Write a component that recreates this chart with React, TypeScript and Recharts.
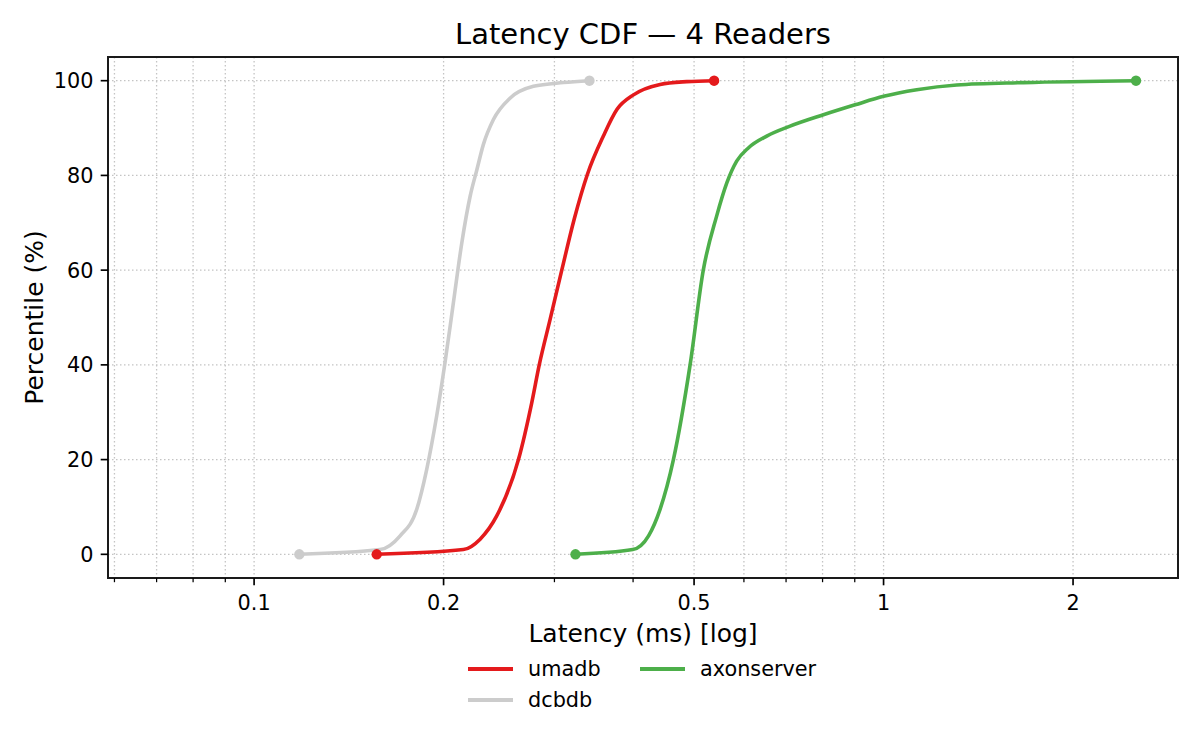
import React from 'react'
import { LineChart, Line, XAxis, YAxis, CartesianGrid, ReferenceArea } from 'recharts'

// latency (ms) / percentile pairs
const dcbdbMs = [0.118, 0.1585, 0.1706, 0.1813, 0.188, 0.195, 0.201, 0.2073, 0.2138, 0.2204, 0.2259, 0.2313, 0.24, 0.255, 0.2778, 0.31, 0.341]
const dcbdbPct = [0, 1.0, 3.9, 9.5, 17.9, 29.2, 40.4, 53.1, 65.8, 75.6, 81.2, 86.5, 91.8, 96.3, 98.8, 99.6, 100]

const umadbMs = [0.1566, 0.215, 0.2286, 0.2429, 0.263, 0.2761, 0.2839, 0.2953, 0.3083, 0.3224, 0.3384, 0.3588, 0.377, 0.4006, 0.4416, 0.4868, 0.538]
const umadbPct = [0, 1.0, 3.2, 8.1, 20.0, 32.0, 40.1, 49.6, 60.1, 70.7, 80.2, 88.3, 93.9, 97.0, 99.2, 99.8, 100]

const axonMs = [0.324, 0.3995, 0.4233, 0.4415, 0.4636, 0.4929, 0.5173, 0.543, 0.5636, 0.5843, 0.6098, 0.6523, 0.7103, 0.8025, 0.901, 1.0, 1.129, 1.307, 1.668, 2.518]
const axonPct = [0, 1.0, 3.9, 9.5, 20.0, 40.1, 60.1, 71.4, 78.4, 83.0, 85.8, 88.3, 90.4, 92.8, 94.9, 96.7, 98.1, 99.1, 99.6, 100]

const seriesNames = ['umadb', 'dcbdb', 'axonserver']
const colors: Record<string, string> = { umadb: '#e41a1c', dcbdb: '#cccccc', axonserver: '#4daf4a' }

const xMajor = [0.1, 0.2, 0.5, 1, 2]
const xTicks = [0.06, 0.07, 0.08, 0.09, 0.1, 0.2, 0.3, 0.4, 0.5, 0.6, 0.7, 0.8, 0.9, 1, 2]
const yTicks = [0, 20, 40, 60, 80, 100]
const xDomain = [0.0586, 2.936]
const yDomain = [-5, 105]

const zip = (ms: number[], pct: number[]) => ms.map((m, i) => ({ ms: m, pct: pct[i] }))
const seriesData: Record<string, { ms: number; pct: number }[]> = {
    umadb: zip(umadbMs, umadbPct),
    dcbdb: zip(dcbdbMs, dcbdbPct),
    axonserver: zip(axonMs, axonPct),
}

const FONT = '"DejaVu Sans", sans-serif'

function XTick(props: any) {
    const { x, y, payload } = props
    const major = xMajor.includes(payload.value)
    return (
        <g>
            <line x1={x} x2={x} y1={y} y2={y + (major ? 7.3 : 4.2)} stroke="#000" strokeWidth={major ? 1.67 : 1.25} />
            {major && (
                <text x={x} y={y + 31.5} textAnchor="middle" fontSize={20.8} fill="#000" fontFamily={FONT}>
                    {String(payload.value)}
                </text>
            )}
        </g>
    )
}

function YLabel(props: any) {
    const { viewBox } = props
    const cx = 34.6
    const cy = viewBox.y + viewBox.height / 2
    return (
        <text x={cx} y={cy} transform={`rotate(-90, ${cx}, ${cy})`} textAnchor="middle" fontSize={25} fill="#000" fontFamily={FONT}>
            Percentile (%)
        </text>
    )
}

function endDots(color: string, n: number) {
    return (p: any) => {
        if (p.index === 0 || p.index === n - 1) {
            return <circle key={`d${p.index}`} cx={p.cx} cy={p.cy} r={5.2} fill={color} stroke="none" />
        }
        return <g key={`d${p.index}`} />
    }
}

const drawOrder = ['dcbdb', 'umadb', 'axonserver']
const legendRows = [
    { name: 'umadb', x: 460, y: 661 },
    { name: 'dcbdb', x: 460, y: 692 },
    { name: 'axonserver', x: 632, y: 661 },
]

export default function App() {
    return (
        <div style={{ position: 'relative', width: 1184, height: 726, fontFamily: FONT }}>
            <LineChart width={1184} height={726} margin={{ top: 49, right: 14, left: 0, bottom: 0 }}>
                <CartesianGrid stroke="#c4c4c4" strokeWidth={1.3} strokeDasharray="1.5 2.5" />
                <XAxis
                    dataKey="ms"
                    type="number"
                    scale="log"
                    domain={xDomain}
                    allowDataOverflow
                    ticks={xTicks}
                    interval={0}
                    tick={<XTick />}
                    tickSize={0}
                    tickMargin={0}
                    tickLine={false}
                    axisLine={false}
                    height={156}
                    label={{ value: 'Latency (ms) [log]', position: 'insideBottom', offset: 92, fontSize: 25, fill: '#000' }}
                />
                <YAxis
                    type="number"
                    domain={yDomain}
                    allowDataOverflow
                    ticks={yTicks}
                    interval={0}
                    width={100}
                    tickSize={7.3}
                    tickMargin={7.3}
                    tick={{ fontSize: 20.8, fill: '#000', fontFamily: FONT }}
                    tickLine={{ stroke: '#000', strokeWidth: 1.67 }}
                    axisLine={false}
                    label={<YLabel />}
                />
                {drawOrder.map((name) => (
                    <Line
                        key={name}
                        data={seriesData[name]}
                        dataKey="pct"
                        name={name}
                        type="monotone"
                        stroke={colors[name]}
                        strokeWidth={3.6}
                        dot={endDots(colors[name], seriesData[name].length)}
                        activeDot={false}
                        isAnimationActive={false}
                    />
                ))}
                <ReferenceArea
                    x1={xDomain[0]}
                    x2={xDomain[1]}
                    y1={yDomain[0]}
                    y2={yDomain[1]}
                    fill="none"
                    fillOpacity={0}
                    stroke="#1a1a1a"
                    strokeWidth={2}
                    ifOverflow="visible"
                />
            </LineChart>
            <svg width={1184} height={726} style={{ position: 'absolute', left: 0, top: 0, pointerEvents: 'none' }}>
                <text x={635} y={36.3} textAnchor="middle" fontSize={29} fill="#000" fontFamily={FONT}>
                    Latency CDF — 4 Readers
                </text>
                {legendRows.map((r) => (
                    <g key={r.name}>
                        <line x1={r.x} x2={r.x + 45} y1={r.y} y2={r.y} stroke={colors[r.name]} strokeWidth={3.8} />
                        <text x={r.x + 60} y={r.y + 7.3} fontSize={20.8} fill="#000" fontFamily={FONT}>
                            {seriesNames.find((s) => s === r.name)}
                        </text>
                    </g>
                ))}
            </svg>
        </div>
    )
}
